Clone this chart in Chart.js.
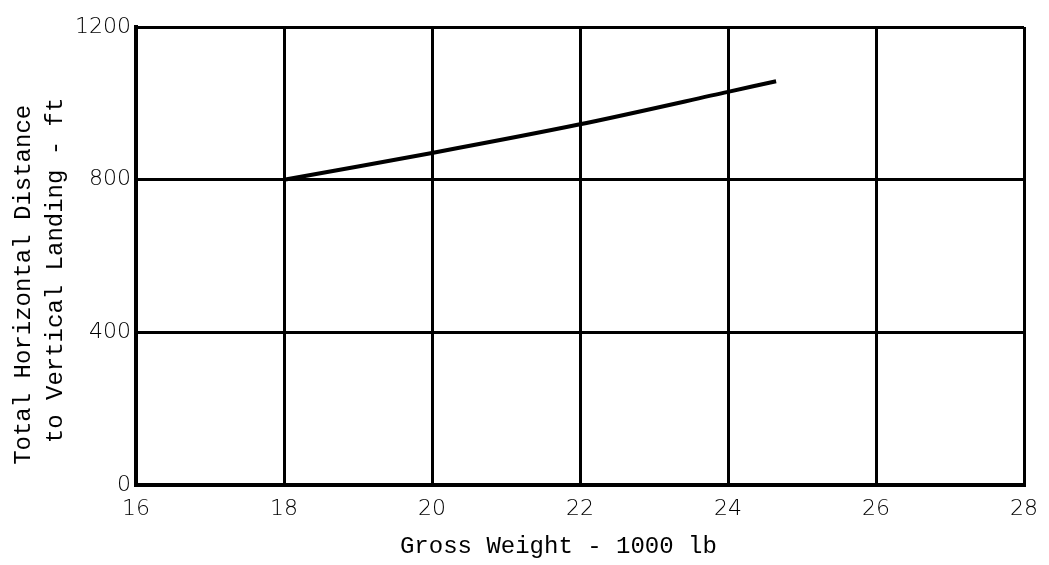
<!DOCTYPE html>
<html>
<head>
<meta charset="utf-8">
<title>Horizontal Distance vs Gross Weight</title>
<script src="https://cdn.jsdelivr.net/npm/chart.js@4/dist/chart.umd.min.js"></script>
<style>
  html, body { margin: 0; padding: 0; background: #fff; }
  #wrap { width: 1049px; height: 565px; }
</style>
</head>
<body>
<div id="wrap"><canvas id="distChart"></canvas></div>
<script>
// Gross weight (1000 lb) and distance to vertical landing (ft)
const grossWeight = [18, 20, 22, 24, 24.65];
const totalDistance = [800, 870, 945, 1030, 1058];

const xTicks = [16, 18, 20, 22, 24, 26, 28];
const yTicks = [0, 400, 800, 1200];

const ink = '#000';
const monoFont = "'Liberation Mono', 'DejaVu Sans Mono', monospace";
const tickFont = "'DejaVu Sans', sans-serif";

const points = grossWeight.map((w, i) => ({ x: w, y: totalDistance[i] }));

const ctx = document.getElementById('distChart').getContext('2d');
new Chart(ctx, {
    type: 'line',
    data: {
        datasets: [
            {
                data: points,
                borderColor: ink,
                borderWidth: 4,
                pointRadius: 0,
                tension: 0.3,
                fill: false,
            },
        ],
    },
    options: {
        responsive: true,
        maintainAspectRatio: false,
        animation: false,
        layout: { padding: { top: 27, right: 21, left: 0, bottom: 0 } },
        plugins: {
            legend: { display: false },
            tooltip: { enabled: false },
        },
        scales: {
            x: {
                type: 'linear',
                min: 16,
                max: 28,
                afterBuildTicks: (scale) => { scale.ticks = xTicks.map(v => ({ value: v })); },
                afterFit: (scale) => { scale.height = 80; },
                grid: { color: ink, lineWidth: 3, drawTicks: false },
                border: { color: ink, width: 4 },
                ticks: {
                    color: ink,
                    padding: 11,
                    maxRotation: 0,
                    callback: (v) => String(v),
                    font: { family: tickFont, size: 22, weight: 200 },
                },
                title: {
                    display: true,
                    // trailing spaces nudge the title left of centre
                    text: 'Gross Weight - 1000 lb   ',
                    color: ink,
                    padding: { top: 2, bottom: 4 },
                    font: { family: monoFont, size: 24 },
                },
            },
            y: {
                type: 'linear',
                min: 0,
                max: 1200,
                afterBuildTicks: (scale) => { scale.ticks = yTicks.map(v => ({ value: v })); },
                afterFit: (scale) => { scale.width = 136; },
                grid: { color: ink, lineWidth: 3, drawTicks: false },
                border: { color: ink, width: 4 },
                ticks: {
                    color: ink,
                    padding: 5,
                    callback: (v) => String(v),
                    font: { family: tickFont, size: 22, weight: 200 },
                },
                title: {
                    display: true,
                    // padded so both lines start near the bottom of the axis
                    text: ['Total Horizontal Distance    ', 'to Vertical Landing - ft  '],
                    color: ink,
                    padding: { top: 8, bottom: 2 },
                    font: { family: monoFont, size: 24, lineHeight: 1.33 },
                },
            },
        },
    },
});
</script>
</body>
</html>
